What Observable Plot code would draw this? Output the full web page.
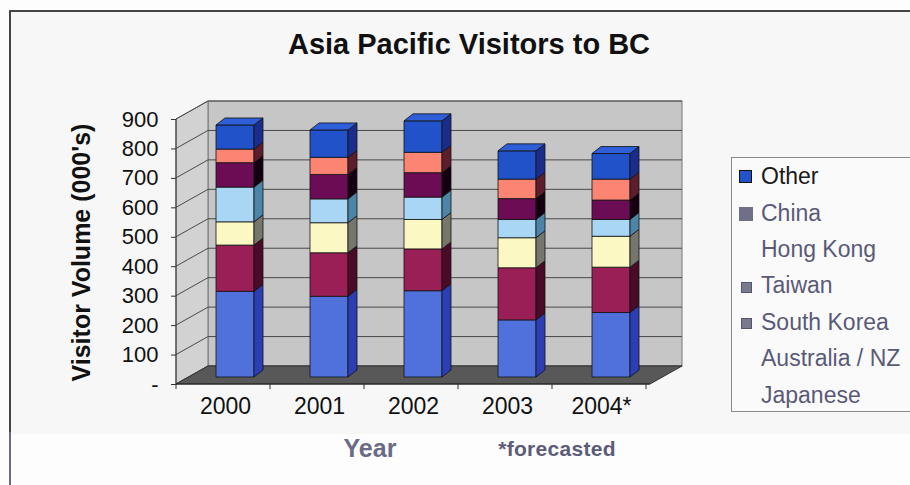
<!DOCTYPE html>
<html><head><meta charset="utf-8">
<script src="https://cdn.jsdelivr.net/npm/d3@7"></script>
<script src="https://cdn.jsdelivr.net/npm/@observablehq/plot@0.6"></script>
<style>
html,body{margin:0;padding:0;background:#fdfdfd;}
#wrap{position:relative;width:910px;height:485px;overflow:hidden;font-family:"Liberation Sans",Arial,sans-serif;}
#frame{position:absolute;left:9px;top:10px;width:920px;height:422px;background:#f7f7f7;border-top:2px solid #444;border-left:2px solid #444;}
#leftline{position:absolute;left:9px;top:432px;width:2px;height:53px;background:#6a6a86;}
#chart{position:absolute;left:0;top:0;}
.t{position:absolute;white-space:nowrap;}
#title{left:14px;top:30px;width:910px;text-align:center;font-weight:bold;font-size:29px;line-height:29px;color:#111;}
#ylabel{left:-69px;top:240px;width:300px;text-align:center;font-weight:bold;font-size:25px;line-height:25px;color:#111;transform:rotate(-90deg);}
#xlabel{left:300px;top:436px;width:140px;text-align:center;font-weight:bold;font-size:25px;line-height:25px;color:#6b6b86;}
#note{left:477px;top:438px;width:160px;text-align:center;font-weight:bold;font-size:21px;line-height:21px;color:#5c5c78;letter-spacing:0.3px;}
#legend{position:absolute;left:731px;top:157px;width:200px;height:253px;border:1px solid #8a8a8a;background:#fafafa;}
.lt{position:absolute;left:761px;font-size:23px;line-height:23px;color:#5a5a78;white-space:nowrap;}
.sw{position:absolute;}
</style></head><body>
<div id="wrap">
  <div id="frame"></div>
  <div id="leftline"></div>
  <div id="chart"></div>
  <div id="legend"></div>
  <div class="t" id="title">Asia Pacific Visitors to BC</div>
  <div class="t" id="ylabel">Visitor Volume (000's)</div>
  <div class="t" id="xlabel">Year</div>
  <div class="t" id="note">*forecasted</div>
</div>
<script>
// ---- data (thousands of visitors) ----
const years = ["2000", "2001", "2002", "2003", "2004*"];
const series = ["Japanese", "Australia / NZ", "South Korea", "Taiwan", "Hong Kong", "China", "Other"]; // bottom → top
const japanese    = [291, 274, 293, 194, 219];
const australiaNZ = [157, 148, 142, 177, 154];
const southKorea  = [79, 102, 100, 102, 105];
const taiwan      = [118, 81, 76, 62, 57];
const hongKong    = [83, 83, 83, 71, 66];
const china       = [46, 58, 69, 66, 71];
const other       = [82, 93, 107, 96, 87];
const yTicks = [0, 100, 200, 300, 400, 500, 600, 700, 800, 900];
const legendOrder = ["Other", "China", "Hong Kong", "Taiwan", "South Korea", "Australia / NZ", "Japanese"];

const frontColors = ["#5070dc", "#9a1f56", "#fcf8c4", "#a9d6f5", "#6c0c55", "#fb8472", "#2152c9"];
const sideColors  = ["#2c3eb4", "#4a0b28", "#76766c", "#4d85a8", "#150012", "#5c1e2c", "#1b2d8c"];
const topColor = "#2e5fd8";

const valuesBySeries = [japanese, australiaNZ, southKorea, taiwan, hongKong, china, other];
const table = years.flatMap((year, j) => series.map((s, k) => ({year, series: s, value: valuesBySeries[k][j]})));

// 3D offsets (pixels)
const WDX = 32, WDY = -18;   // wall depth
const BDX = 10, BDY = -7;    // bar front plane offset
const SDX = 9, SDY = -7;     // bar depth

const sideOf = new Map(frontColors.map((c, i) => [c, sideColors[i]]));
const poly = pts => pts.map(p => p.join(",")).join(" ");

function bandInfo(scales, dims) {
  const x0 = scales.x(years[0]), x1 = scales.x(years[1]);
  let bw = scales.x.bandwidth;
  if (typeof bw === "function") bw = bw();
  if (typeof bw !== "number" || !isFinite(bw)) bw = (x1 - x0) * 0.4;
  return {step: x1 - x0, bw};
}

function frameRender(index, scales, values, dims) {
  const g = d3.create("svg:g");
  const xL = dims.marginLeft, xR = dims.width - dims.marginRight;
  const y0 = scales.y(0), yT = scales.y(900);
  g.append("rect").attr("x", xL + WDX).attr("y", yT + WDY).attr("width", xR - xL).attr("height", y0 - yT)
    .attr("fill", "#c6c6c6").attr("stroke", "#777");
  g.append("polygon").attr("points", poly([[xL, y0], [xL + WDX, y0 + WDY], [xL + WDX, yT + WDY], [xL, yT]]))
    .attr("fill", "#d2d2d2").attr("stroke", "#777");
  for (const i of index) {
    const y = values.y[i];
    g.append("line").attr("x1", xL + WDX).attr("x2", xR + WDX).attr("y1", y + WDY).attr("y2", y + WDY)
      .attr("stroke", "#4a4a4a").attr("stroke-width", 1);
    g.append("line").attr("x1", xL).attr("x2", xL + WDX).attr("y1", y).attr("y2", y + WDY)
      .attr("stroke", "#4a4a4a").attr("stroke-width", 1);
  }
  g.append("polygon").attr("points", poly([[xL, y0], [xR, y0], [xR + WDX, y0 + WDY], [xL + WDX, y0 + WDY]]))
    .attr("fill", "#585858").attr("stroke", "#333");
  g.append("line").attr("x1", xL).attr("x2", xL).attr("y1", y0).attr("y2", yT).attr("stroke", "#333");
  const {step} = bandInfo(scales, dims);
  for (let k = 0; k <= years.length; k++) {
    const x = xL + k * step;
    g.append("line").attr("x1", x).attr("x2", x).attr("y1", y0).attr("y2", y0 + 5).attr("stroke", "#333");
  }
  g.append("line").attr("x1", xL).attr("x2", xR).attr("y1", y0).attr("y2", y0).attr("stroke", "#222");
  return g.node();
}

function bar3dRender(index, scales, values, dims) {
  const g = d3.create("svg:g").attr("stroke", "#111").attr("stroke-width", 0.8).attr("stroke-linejoin", "round");
  const {bw} = bandInfo(scales, dims);
  for (const i of index) {
    const xa = values.x[i] + BDX, xb = xa + bw;
    const ya = values.y1[i] + BDY, yb = values.y2[i] + BDY;
    const top = Math.min(ya, yb), bot = Math.max(ya, yb);
    const fill = values.fill[i];
    g.append("rect").attr("x", xa).attr("y", top).attr("width", xb - xa).attr("height", bot - top).attr("fill", fill);
    g.append("polygon").attr("points", poly([[xb, bot], [xb + SDX, bot + SDY], [xb + SDX, top + SDY], [xb, top]]))
      .attr("fill", sideOf.get(fill) || "#222");
    if (fill === frontColors[frontColors.length - 1]) {
      g.append("polygon").attr("points", poly([[xa, top], [xb, top], [xb + SDX, top + SDY], [xa + SDX, top + SDY]]))
        .attr("fill", topColor);
    }
  }
  return g.node();
}

const chart = Plot.plot({
  width: 910,
  height: 485,
  marginLeft: 176,
  marginRight: 260,
  marginTop: 119,
  marginBottom: 101,
  style: {background: "transparent", fontFamily: "'Liberation Sans', Arial, sans-serif", fontSize: "22px", color: "#111"},
  x: {domain: years, paddingInner: 0.6, paddingOuter: 0.3, label: null},
  y: {domain: [0, 900], label: null},
  color: {domain: series, range: frontColors},
  marks: [
    Plot.ruleY(yTicks, {y: d => d, render: frameRender}),
    Plot.barY(table, {x: "year", y: "value", fill: "series", order: series, render: bar3dRender}),
    Plot.axisY({ticks: yTicks, tickFormat: d => d === 0 ? "-" : String(d), tickSize: 5, tickPadding: 13, fontSize: 22, label: null, stroke: "#333"}),
    Plot.axisX({tickSize: 0, tickPadding: 13, fontSize: 23, label: null})
  ]
});
document.getElementById("chart").appendChild(chart);

// ---- legend ----
const wrap = document.getElementById("wrap");
const legendSwatch = {
  "Other": {fill: "#2152c9", stroke: "#111", size: 13, dx: 739, dy: -7},
  "China": {fill: "#6f6f88", stroke: "none", size: 14, dx: 739, dy: -6},
  "Taiwan": {fill: "#7a7a8e", stroke: "#55556a", size: 11, dx: 741, dy: -4},
  "South Korea": {fill: "#7a7a8e", stroke: "#55556a", size: 11, dx: 741, dy: -4}
};
legendOrder.forEach((name, i) => {
  const cy = 176.7 + i * 36.4;
  const t = document.createElement("div");
  t.className = "lt";
  t.textContent = name;
  t.style.top = (cy - 11.5) + "px";
  if (name === "Other") t.style.color = "#1a1a1a";
  wrap.appendChild(t);
  const sw = legendSwatch[name];
  if (sw) {
    const s = document.createElement("div");
    s.className = "sw";
    s.style.left = sw.dx + "px";
    s.style.top = (cy + sw.dy) + "px";
    s.style.width = sw.size + "px";
    s.style.height = sw.size + "px";
    s.style.background = sw.fill;
    s.style.boxSizing = "border-box";
    if (sw.stroke !== "none") s.style.border = "1px solid " + sw.stroke;
    wrap.appendChild(s);
  }
});
</script>
</body></html>
